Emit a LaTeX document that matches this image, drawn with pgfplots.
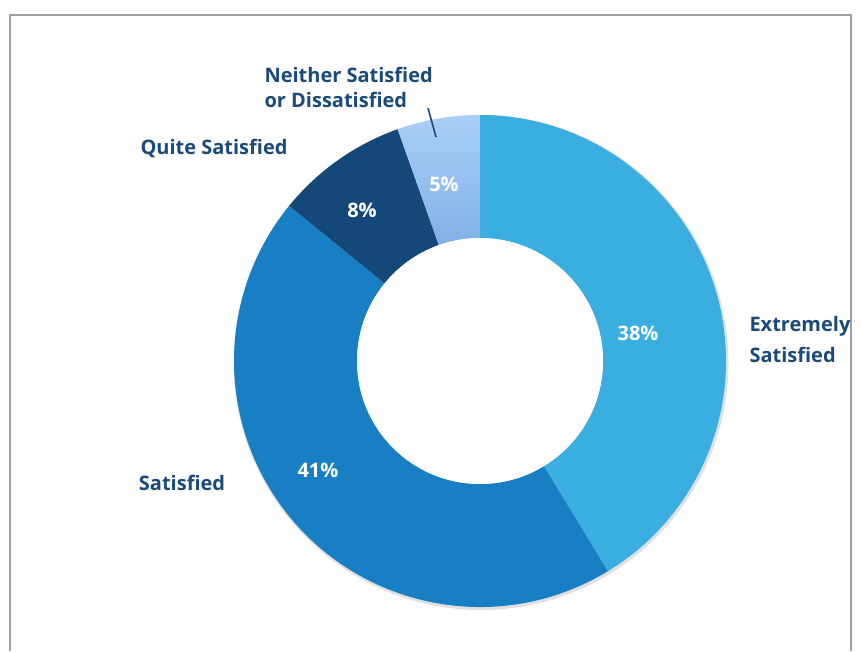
\documentclass[border=0pt]{standalone}
\usepackage{pgfplots}
\usepackage{pgfplotstable}
\pgfplotsset{compat=1.18}
\usepackage{fontspec}
\setmainfont{Open Sans}

\definecolor{cExt}{HTML}{3AADE1}
\definecolor{cSat}{HTML}{187FC4}
\definecolor{cQui}{HTML}{134879}
\definecolor{cNeiT}{HTML}{AACFF9}
\definecolor{cNeiB}{HTML}{5A96D4}
\definecolor{txt}{HTML}{1A4A7C}
\definecolor{frame}{HTML}{A0A0A0}

% shares, clockwise from 12 o'clock
\pgfplotstableread{
value
38
41
8
5
}\sat

\begin{document}
\begin{tikzpicture}
  \pgfplotstablegetelem{0}{value}\of\sat \let\va\pgfplotsretval
  \pgfplotstablegetelem{1}{value}\of\sat \let\vb\pgfplotsretval
  \pgfplotstablegetelem{2}{value}\of\sat \let\vc\pgfplotsretval
  \pgfplotstablegetelem{3}{value}\of\sat \let\vd\pgfplotsretval
  \pgfmathsetmacro\tot{\va+\vb+\vc+\vd}
  \pgfmathsetmacro\aA{90}
  \pgfmathsetmacro\aB{\aA-360*\va/\tot}
  \pgfmathsetmacro\aC{\aB-360*\vb/\tot}
  \pgfmathsetmacro\aD{\aC-360*\vc/\tot}
  \pgfmathsetmacro\aE{\aD-360*\vd/\tot}

  % one ring segment between two angles
  \def\seg#1#2{(axis cs:480,290) ++(#1:246pt) arc[start angle=#1, end angle=#2, radius=246pt]
    -- ([shift={(#2:123pt)}]axis cs:480,290) arc[start angle=#2, end angle=#1, radius=123pt] -- cycle}

  \begin{axis}[scale only axis, width=861pt, height=651pt,
    xmin=0, xmax=861, ymin=0, ymax=651, hide axis, clip=false]

    \path (axis cs:0,0) rectangle (axis cs:861,651);
    \draw[frame, line width=1.2pt] (axis cs:10,0) -- (axis cs:10,636) -- (axis cs:851,636) -- (axis cs:851,0);

    \fill[black!12] (axis cs:481,288.5) circle[radius=247.5pt];
    \fill[cExt] \seg{\aA}{\aB};
    \fill[cSat] \seg{\aB}{\aC};
    \fill[cQui] \seg{\aC}{\aD};
    \shade[top color=cNeiT, bottom color=cNeiB] \seg{\aD}{\aE};
    \fill[white] (axis cs:480,290) circle[radius=123pt];

    \begin{scope}[font=\fontsize{20}{24.5}\selectfont\bfseries]
      \node[white] at (axis cs:638,318) {38\%};
      \node[white] at (axis cs:318,181) {41\%};
      \node[white] at (axis cs:362,441) {8\%};
      \node[white] at (axis cs:444,467) {5\%};
      \node[txt, anchor=west, align=left, font=\fontsize{20}{30.5}\selectfont\bfseries]
        at (axis cs:746,311.5) {Extremely\\Satisfied};
      \node[txt] at (axis cs:182,168) {Satisfied};
      \node[txt] at (axis cs:214,502) {Quite Satisfied};
      \node[txt, anchor=west, align=left] at (axis cs:261,563.5) {Neither Satisfied\\or Dissatisfied};
    \end{scope}
    \draw[txt, line width=1.6pt] (axis cs:428,543) -- (axis cs:436,514);
  \end{axis}
\end{tikzpicture}
\end{document}
